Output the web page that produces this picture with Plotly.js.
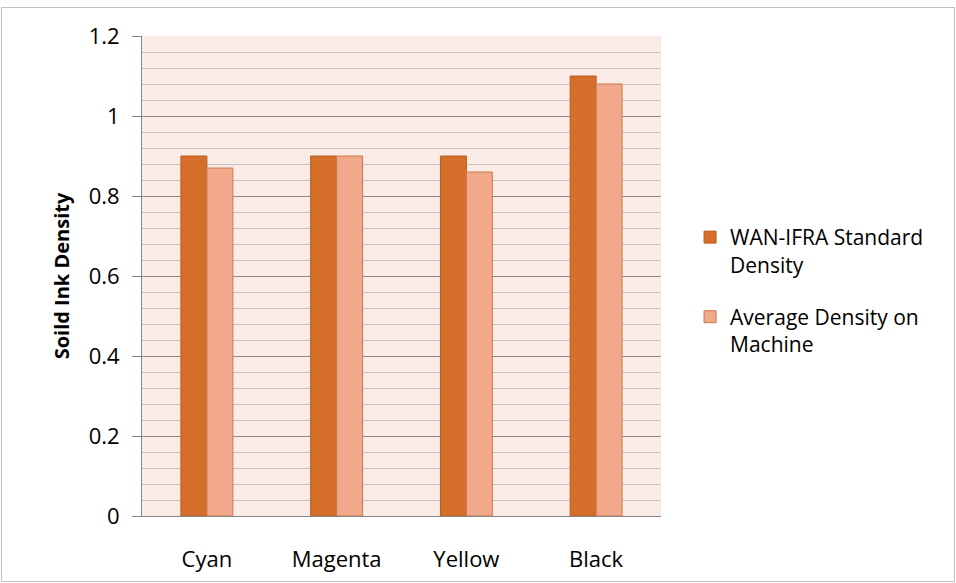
<!DOCTYPE html>
<html>
<head>
<meta charset="utf-8">
<script src="https://cdn.plot.ly/plotly-3.0.1.min.js"></script>
<style>
  html, body { margin: 0; padding: 0; background: #ffffff; }
  #wrap { position: relative; width: 956px; height: 583px; }
  #chart { width: 956px; height: 583px; }
  #frame { position: absolute; left: 1px; top: 7px; width: 952px; height: 573px;
           border: 1px solid #C0C0C0; pointer-events: none; }
</style>
</head>
<body>
<div id="wrap">
  <div id="chart"></div>
  <div id="frame"></div>
</div>
<script>
const categories = ["Cyan", "Magenta", "Yellow", "Black"];
const standardDensity = [0.9, 0.9, 0.9, 1.1];
const machineDensity = [0.87, 0.9, 0.86, 1.08];
const seriesNames = ["WAN-IFRA Standard<br>Density", "Average Density on<br>Machine"];
const yTickVals = [0, 0.2, 0.4, 0.6, 0.8, 1, 1.2];
const yTickText = ["0", "0.2", "0.4", "0.6", "0.8", "1", "1.2"];

const font = "'Open Sans', Lato, sans-serif";

const traces = [
  {
    type: "bar", x: categories, y: standardDensity, name: seriesNames[0],
    legendgroup: "standard",
    marker: { color: "#D46E2A", line: { color: "#B65E22", width: 1 } },
    hoverinfo: "x+y"
  },
  {
    type: "bar", x: categories, y: machineDensity, name: seriesNames[1],
    legendgroup: "machine",
    marker: { color: "#F2A88A", line: { color: "#C97A4E", width: 1 } },
    hoverinfo: "x+y"
  }
];

const layout = {
  width: 956, height: 583,
  margin: { l: 142, r: 295, t: 36, b: 67 },
  paper_bgcolor: "#ffffff",
  plot_bgcolor: "#FBEBE6",
  barmode: "group",
  bargap: 0.6,
  bargroupgap: 0,
  font: { family: font, size: 22, color: "#000000" },
  showlegend: true,
  legend: {
    x: 1.056, xanchor: "left", y: 0.623, yanchor: "top",
    valign: "top",
    traceorder: "grouped",
    font: { family: font, size: 21, color: "#000000" },
    tracegroupgap: 22,
    bgcolor: "rgba(0,0,0,0)"
  },
  xaxis: {
    type: "category",
    showline: true, linecolor: "#868686", linewidth: 1,
    ticks: "", showgrid: false,
    tickfont: { family: font, size: 22, color: "#000000" },
    ticklabelstandoff: 24,
    fixedrange: true
  },
  yaxis: {
    range: [0, 1.2],
    tickvals: yTickVals, ticktext: yTickText,
    showline: true, linecolor: "#868686", linewidth: 1,
    ticks: "outside", ticklen: 9, tickcolor: "#868686",
    showgrid: true, gridcolor: "#8C8C8C", gridwidth: 1,
    zeroline: false,
    minor: { dtick: 0.04, showgrid: true, gridcolor: "#C4C4C4", gridwidth: 1, ticks: "" },
    tickfont: { family: font, size: 22, color: "#000000" },
    ticklabelstandoff: 8,
    title: { text: "<b>Soild Ink Density</b>", font: { family: font, size: 20, color: "#000000" }, standoff: 13 },
    fixedrange: true
  }
};

Plotly.newPlot("chart", traces, layout, { displayModeBar: false, staticPlot: true });
</script>
</body>
</html>
